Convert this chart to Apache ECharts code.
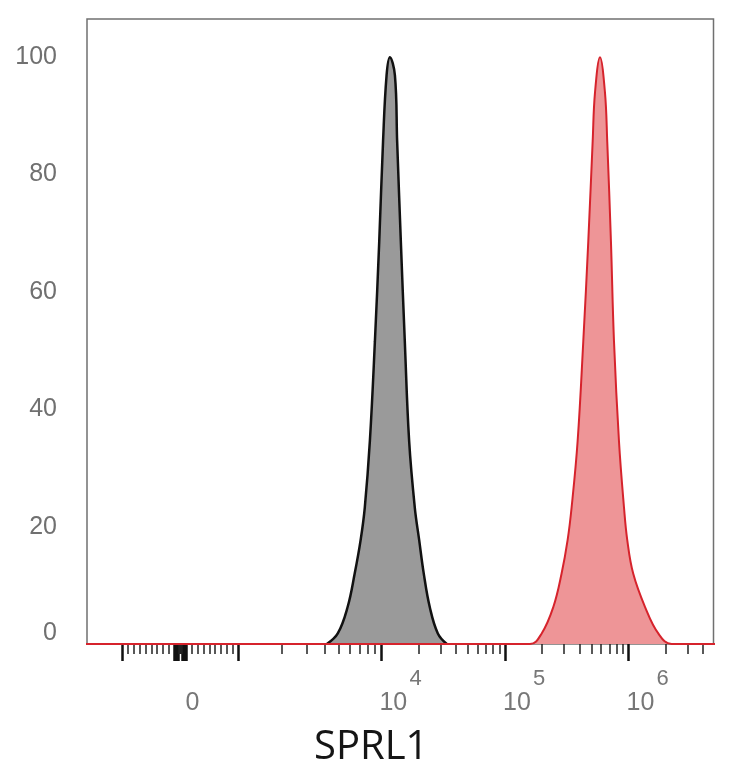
<!DOCTYPE html>
<html lang="en">
<head>
    <meta charset="UTF-8">
    <title>SPRL1 histogram</title>
    <script src="https://cdn.jsdelivr.net/npm/echarts@6/dist/echarts.min.js"></script>
    <style type="text/css">
        html, body { margin: 0; padding: 0; background: #fff; }
        #main { width: 734px; height: 768px; }
    </style>
</head>
<body>
<div id="main"></div>
<script type="application/javascript">
    // gray histogram (control), fluorescence value vs % of max
    var grayX = [4150, 4950, 5800, 6500, 7150, 7650, 8300, 9000, 9650, 10300, 11000, 11700,
                 12850, 13400, 14350, 15450, 16750, 18600, 20200, 22000, 24600, 28600, 33800];
    var grayY = [0, 1.8, 6.3, 12, 17.7, 23.3, 34.6, 51.6, 68.6, 85.6, 96.9, 100,
                 96.9, 85.6, 68.6, 51.6, 34.6, 23.3, 17.7, 12, 6.3, 1.8, 0];

    // red histogram (SPRL1 stained)
    var redX = [-2000, 159000, 198000, 246000, 287000, 321000, 346000, 387000, 430000, 472000, 512000, 535000,
                587000, 644000, 672000, 720000, 762000, 836000, 918000, 976000, 1090000, 1360000, 1740000, 2230000, 10000000];
    var redY = [0, 0, 1.8, 6.3, 12, 17.7, 23.3, 34.6, 51.6, 68.6, 85.6, 94,
                100, 94, 85.6, 68.6, 51.6, 34.6, 23.3, 17.7, 12, 6.3, 1.8, 0, 0];

    // axis ticks (raw fluorescence values)
    var xLabelValues = [0, 10000, 100000, 1000000];
    var xLabelExp = ['', '4', '5', '6'];
    var xMajorTicks = [-1000, -100, -90, -80, -70, -60, -50, -40, -30,
                       30, 40, 50, 60, 70, 80, 90, 100, 1000, 10000, 100000, 1000000];
    var xMinorTicks = [-900, -800, -700, -600, -500, -400, -300, -200, -20, -10, 0, 10, 20,
                       200, 300, 400, 500, 600, 700, 800, 900,
                       2000, 3000, 4000, 5000, 6000, 7000, 8000, 9000,
                       20000, 30000, 40000, 50000, 60000, 70000, 80000, 90000,
                       200000, 300000, 400000, 500000, 600000, 700000, 800000, 900000,
                       2000000, 3000000, 4000000];
    var yLabelValues = [0, 20, 40, 60, 80, 100];

    // biexponential-like display scale: linear up to 1000, then log
    var DEC_LOW = 2.466;   // axis units for the decade 1e3..1e4
    var DEC_HIGH = 2.13;   // axis units per decade above 1e4
    function biex(v) {
        var a = Math.abs(v), u;
        if (a <= 1000) u = a / 1000;
        else if (a <= 10000) u = 1 + DEC_LOW * Math.log10(a / 1000);
        else u = 1 + DEC_LOW + DEC_HIGH * Math.log10(a / 10000);
        return v < 0 ? -u : u;
    }
    var X_MIN = -1.61, X_MAX = 9.19;

    function pairs(xs, ys) {
        return xs.map(function (x, i) { return [biex(x), ys[i]]; });
    }

    var labelPos = xLabelValues.map(biex);
    var myChart = echarts.init(document.getElementById('main'));

    myChart.setOption({
        animation: false,
        title: {
            text: 'SPRL1',
            left: 309,
            top: 723,
            textStyle: { fontFamily: 'Open Sans', fontSize: 40, fontWeight: 'normal', color: '#151515' }
        },
        grid: {
            left: 87, top: 19, right: 20.5, bottom: 124,
            show: true, borderColor: '#707070', borderWidth: 1.5,
            containLabel: false, outerBoundsMode: 'none'
        },
        xAxis: [{
            type: 'value', position: 'bottom', min: X_MIN, max: X_MAX,
            axisLine: { show: false }, splitLine: { show: false },
            axisTick: { show: true, length: 17, lineStyle: { color: '#111', width: 2.5 },
                        customValues: xMajorTicks.map(biex) },
            axisLabel: {
                show: true, customValues: labelPos, margin: 23, align: 'left',
                formatter: function (val) {
                    var best = 0;
                    for (var i = 1; i < labelPos.length; i++) {
                        if (Math.abs(labelPos[i] - val) < Math.abs(labelPos[best] - val)) best = i;
                    }
                    if (best === 0) return '{s| }\n{z|0}';
                    return '{e|' + xLabelExp[best] + '}\n{b|10}';
                },
                rich: {
                    s: { fontSize: 22, lineHeight: 23, fontFamily: 'Liberation Sans', color: '#777' },
                    e: { fontSize: 22, lineHeight: 23, fontFamily: 'Liberation Sans', color: '#777', padding: [0, 0, 0, 28] },
                    b: { fontSize: 25, lineHeight: 26, fontFamily: 'Liberation Sans', color: '#777', padding: [0, 0, 0, -2] },
                    z: { fontSize: 25, lineHeight: 26, fontFamily: 'Liberation Sans', color: '#777', padding: [0, 0, 0, 5] }
                }
            }
        }, {
            type: 'value', position: 'bottom', min: X_MIN, max: X_MAX,
            axisLine: { show: false }, splitLine: { show: false },
            axisTick: { show: true, length: 10, lineStyle: { color: '#222', width: 1.5 },
                        customValues: xMinorTicks.map(biex) },
            axisLabel: { show: false }
        }],
        yAxis: {
            type: 'value', min: 0, max: 106.5,
            axisLine: { show: false }, axisTick: { show: false }, splitLine: { show: false },
            axisLabel: {
                customValues: yLabelValues, margin: 30,
                fontFamily: 'Liberation Sans', fontSize: 25, color: '#707070',
                formatter: function (v) { return v === 0 ? '{z|0}' : String(v); },
                rich: { z: { fontFamily: 'Liberation Sans', fontSize: 25, color: '#707070', padding: [0, 0, 21, 0] } }
            }
        },
        series: [{
            name: 'control', type: 'line', xAxisIndex: 0,
            data: pairs(grayX, grayY),
            symbol: 'none', smooth: 0.4,
            lineStyle: { color: '#111', width: 2.5 },
            areaStyle: { color: '#9a9a9a', opacity: 1 }
        }, {
            name: 'SPRL1', type: 'line', xAxisIndex: 0,
            data: pairs(redX, redY),
            symbol: 'none', smooth: 0.4,
            lineStyle: { color: '#d6232c', width: 2 },
            areaStyle: { color: '#ee9597', opacity: 1 }
        }]
    });
</script>
</body>
</html>
